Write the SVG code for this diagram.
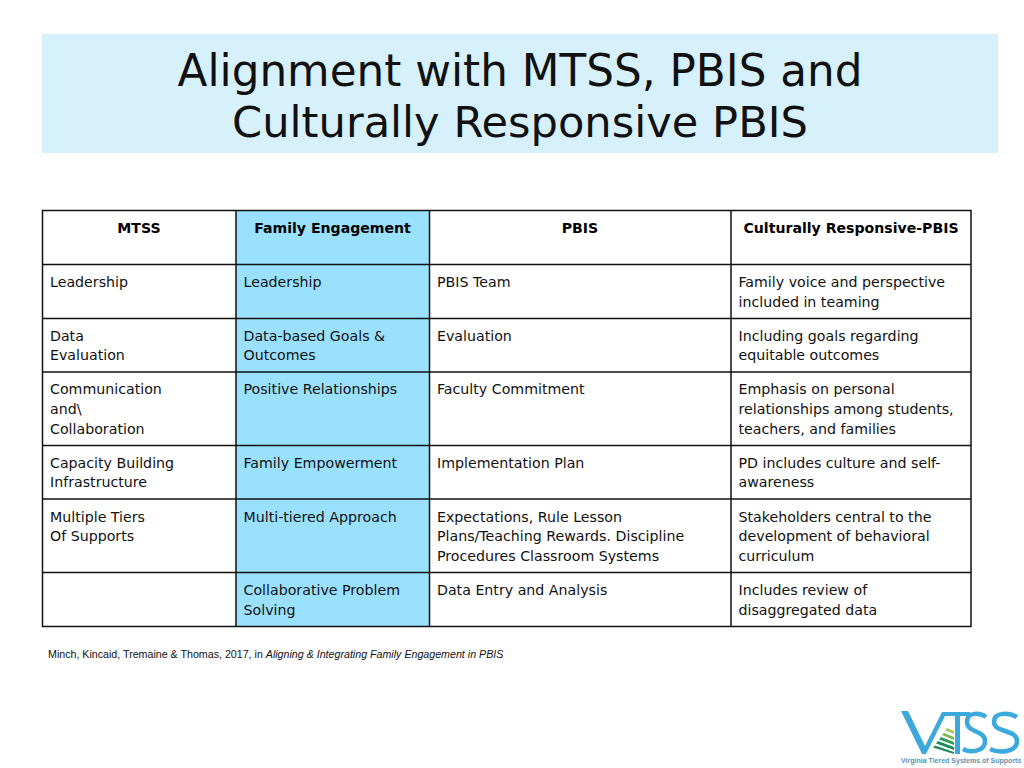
<svg xmlns="http://www.w3.org/2000/svg" width="1024" height="768" viewBox="0 0 1024 768">
<style>
text{font-family:"DejaVu Sans",Verdana,sans-serif;fill:#000}
.t{font-size:43.7px;text-anchor:middle;fill:#111}
.t2{font-size:43.2px}
.c{font-size:14.2px;fill:#111}
.h{font-size:14.1px;font-weight:bold;text-anchor:middle}
.f{font-family:"Liberation Sans",Arial,sans-serif;font-size:10.67px;fill:#111}
.l{stroke:#111;stroke-width:1.5;fill:none}
.b{fill:#3ba9dc}
.sl{fill:none;stroke:#3ba9dc;stroke-width:4.500}
.s{font-family:"Liberation Sans",Arial,sans-serif;font-size:7px;font-weight:bold;fill:#5a93b3}
</style>
<rect width="1024" height="768" fill="#fff"/>
<g id="title">
<rect x="42" y="34" width="956" height="119" fill="#d7f1fc"/>
<text class="t" x="520" y="85.500">Alignment with MTSS, PBIS and</text>
<text class="t t2" x="520" y="137">Culturally Responsive PBIS</text>
</g>
<g id="table">
<rect x="236" y="211" width="193" height="415" fill="#99e1ff"/>
<path class="l" d="M42.500 210.500H971V626.500H42.500ZM42.500 264.500H971M42.500 318.500H971M42.500 372H971M42.500 445.500H971M42.500 499H971M42.500 572.500H971M236 210.500V626.500M429.500 210.500V626.500M731 210.500V626.500"/>
<text class="h" x="139" y="233">MTSS</text>
<text class="h" x="332.500" y="233">Family Engagement</text>
<text class="h" x="580" y="233">PBIS</text>
<text class="h" x="851" y="233">Culturally Responsive-PBIS</text>
<text class="c" x="50" y="286.500">Leadership</text>
<text class="c" x="243.500" y="286.500">Leadership</text>
<text class="c" x="437" y="286.500">PBIS Team</text>
<text class="c" x="738.500" y="286.500">Family voice and perspective</text>
<text class="c" x="738.500" y="306.500">included in teaming</text>
<text class="c" x="50" y="340.500">Data</text>
<text class="c" x="50" y="360">Evaluation</text>
<text class="c" x="243.500" y="340.500">Data-based Goals &amp;</text>
<text class="c" x="243.500" y="360">Outcomes</text>
<text class="c" x="437" y="340.500">Evaluation</text>
<text class="c" x="738.500" y="340.500">Including goals regarding</text>
<text class="c" x="738.500" y="360">equitable outcomes</text>
<text class="c" x="50" y="394">Communication</text>
<text class="c" x="50" y="413.500">and\</text>
<text class="c" x="50" y="433.500">Collaboration</text>
<text class="c" x="243.500" y="394">Positive Relationships</text>
<text class="c" x="437" y="394">Faculty Commitment</text>
<text class="c" x="738.500" y="394">Emphasis on personal</text>
<text class="c" x="738.500" y="413.500">relationships among students,</text>
<text class="c" x="738.500" y="433.500">teachers, and families</text>
<text class="c" x="50" y="467.500">Capacity Building</text>
<text class="c" x="50" y="487">Infrastructure</text>
<text class="c" x="243.500" y="467.500">Family Empowerment</text>
<text class="c" x="437" y="467.500">Implementation Plan</text>
<text class="c" x="738.500" y="467.500">PD includes culture and self-</text>
<text class="c" x="738.500" y="487">awareness</text>
<text class="c" x="50" y="521.500">Multiple Tiers</text>
<text class="c" x="50" y="540.500">Of Supports</text>
<text class="c" x="243.500" y="521.500">Multi-tiered Approach</text>
<text class="c" x="437" y="521.500">Expectations, Rule Lesson</text>
<text class="c" x="437" y="540.500">Plans/Teaching Rewards. Discipline</text>
<text class="c" x="437" y="560.500">Procedures Classroom Systems</text>
<text class="c" x="738.500" y="521.500">Stakeholders central to the</text>
<text class="c" x="738.500" y="540.500">development of behavioral</text>
<text class="c" x="738.500" y="560.500">curriculum</text>
<text class="c" x="243.500" y="594.500">Collaborative Problem</text>
<text class="c" x="243.500" y="614.500">Solving</text>
<text class="c" x="437" y="594.500">Data Entry and Analysis</text>
<text class="c" x="738.500" y="594.500">Includes review of</text>
<text class="c" x="738.500" y="614.500">disaggregated data</text>
</g>
<g id="citation">
<text class="f" x="48" y="658">Minch, Kincaid, Tremaine &amp; Thomas, 2017, in <tspan font-style="italic">Aligning &amp; Integrating Family Engagement in PBIS</tspan></text>
</g>
<g id="logo">
<path class="b" d="M901 711H908L925 746L942 712H970V716H960V754H955V716H945L926 754H922Z"/>
<path class="sl" d="M986 717C981 713 967 711 967 722C967 733 985 730 985 741C985 752 970 753 963 749"/>
<path class="sl" d="M1017 717C1010 713 994 711 994 722C994 733 1017 729 1017 741C1017 753 998 753 990 749"/>
<path fill="#a6c95a" d="M947 728L954 731V734L945 730.500Z"/>
<path fill="#7fb54a" d="M944 733L954 737V740L942 735Z"/>
<path fill="#2f9a5c" d="M941 737L954 742V745L939 739.500Z"/>
<path fill="#1f8a5a" d="M938 741L954 747V750L936 743.500ZM935 745.500L954 752V754L933 747.500Z"/>
<text class="s" x="901" y="763">Virginia Tiered Systems of Supports</text>
</g>
</svg>
